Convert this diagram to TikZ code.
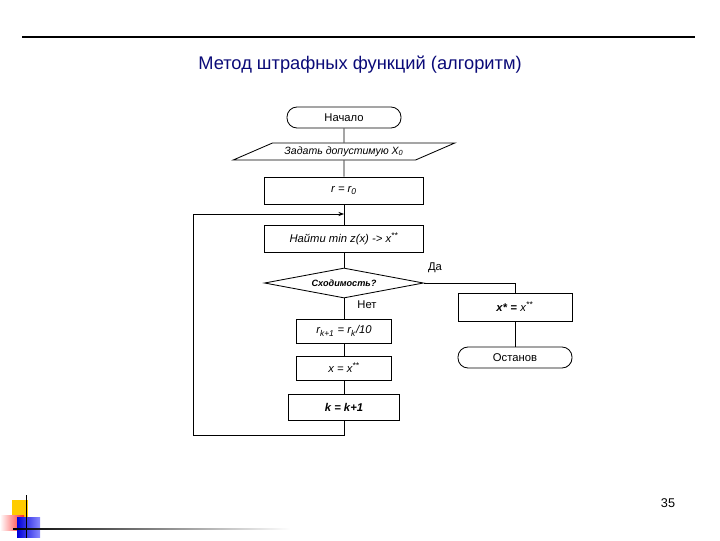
\documentclass[tikz,border=0pt]{standalone}
\usepackage{fontspec}
\setmainfont{Liberation Sans}
\usetikzlibrary{arrows.meta,shapes.geometric}
\definecolor{titleblue}{RGB}{10,10,120}
\definecolor{logoyellow}{RGB}{255,204,0}

\begin{document}
\begin{tikzpicture}[x=0.025cm,y=-0.025cm,>={Stealth[length=4pt,width=3pt]},line width=0.6pt,font=\fontsize{8}{9.6}\selectfont]
\tikzstyle{blk}=[draw,inner sep=1pt,minimum width=3.975cm,minimum height=0.675cm]
\tikzstyle{term}=[draw,inner sep=1pt,rounded corners=0.25cm,minimum width=2.85cm,minimum height=0.525cm]
\useasboundingbox (0,0) rectangle (720,540);
\draw[line width=0.8pt] (22,37) -- (695,37);
\node[titleblue,font=\fontsize{13}{16}\selectfont] (title) at (360,65) {Метод штрафных функций (алгоритм)};
% flowchart
\node[term] (start) at (344,117.5) {Начало};
\node[draw,trapezium,trapezium left angle=20.7,trapezium right angle=159.3,trapezium stretches=true,inner sep=1pt,minimum width=5.55cm,minimum height=0.425cm,font=\fontsize{7.5}{9}\itshape] (inp) at (344,151.5) {Задать допустимую X\textsubscript{0}};
\node[blk,font=\fontsize{8}{9.6}\itshape] (init) at (344,190.5) {r = r\textsubscript{0}};
\node[blk,font=\fontsize{8}{9.6}\itshape] (mins) at (344,238.5) {Найти min z(x) -> x\textsuperscript{**}};
\node[draw,diamond,inner sep=0pt,aspect=5.3,minimum width=3.975cm,minimum height=0.75cm,font=\fontsize{6.5}{8}\bfseries\itshape] (conv) at (344,283) {Сходимость?};
\node[blk,minimum width=2.375cm,minimum height=0.6cm,font=\fontsize{8}{9.6}\itshape] (updr) at (344,331) {r\textsubscript{k+1} = r\textsubscript{k}/10};
\node[blk,minimum width=2.375cm,minimum height=0.6cm,font=\fontsize{8}{9.6}\itshape] (setx) at (344,368) {x = x\textsuperscript{**}};
\node[blk,minimum width=2.775cm,minimum height=0.65cm,font=\fontsize{8}{9.6}\bfseries\itshape] (inck) at (344,407) {k = k+1};
\node[blk,minimum width=2.85cm,minimum height=0.7cm] (res) at (515,307) {\textbf{\textit{x}*~=}~\textit{x}\textsuperscript{**}};
\node[term] (stop) at (515,357.5) {Останов};
\node (yes) at (435,268) {Да};
\node (no) at (367,305) {Нет};
\coordinate (join) at (344,214);
\coordinate (lt) at (193,214);
\coordinate (lb) at (193,435);
\coordinate (bt) at (344,435);
\draw (start) -- (inp);
\draw (inp) -- (init);
\draw (init) -- (mins);
\draw (mins) -- (conv);
\draw (conv.east) -| (res.north);
\draw (res) -- (stop);
\draw (conv) -- (updr);
\draw (updr) -- (setx);
\draw (setx) -- (inck);
\draw[->] (inck.south) -- (bt) -- (lb) -- (lt) -- (join);
% page number and logo
\node[font=\fontsize{9}{11}\selectfont] (page) at (668,503) {35};
\fill[logoyellow] (12,500) rectangle (28,517);
\shade[left color=white,right color=red!85] (0,515) rectangle (24,530);
\shade[left color=blue!85!black,right color=blue!45] (17,517) rectangle (40,537);
\draw[line width=0.7pt] (26,495) -- (26,538);
\shade[left color=black,right color=white] (13,528.4) rectangle (290,529.6);
\end{tikzpicture}
\end{document}
